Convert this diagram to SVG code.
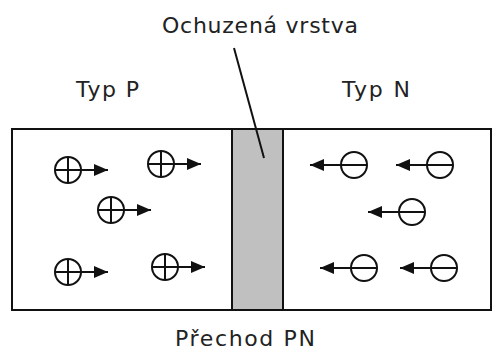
<svg xmlns="http://www.w3.org/2000/svg" width="497" height="354" viewBox="0 0 497 354">
<defs>
<style>
.lbl{font-family:"DejaVu Sans","Liberation Sans",sans-serif;font-size:22px;fill:#222}
.c{fill:none;stroke:#111;stroke-width:2}
.ln{stroke:#111;stroke-width:2}
</style>
<marker id="ah" viewBox="0 0 14 12" refX="14" refY="6" markerWidth="14" markerHeight="12" markerUnits="userSpaceOnUse" orient="auto">
<path d="M0,0 L14,6 L0,12 Z" fill="#111"/>
</marker>
<g id="plus">
<circle class="c" cx="0" cy="0" r="13"/>
<line class="ln" x1="0" y1="-13" x2="0" y2="13"/>
<line class="ln" x1="-13" y1="0" x2="40" y2="0" marker-end="url(#ah)"/>
</g>
<g id="minus">
<circle class="c" cx="0" cy="0" r="13"/>
<line class="ln" x1="13" y1="0" x2="-44" y2="0" marker-end="url(#ah)"/>
</g>
</defs>
<rect width="497" height="354" fill="#fff"/>
<g id="crystal">
<rect x="12" y="129" width="479" height="181" fill="#fff" stroke="#111" stroke-width="2"/>
<rect id="depletion" x="232" y="129" width="51" height="181" fill="#c0c0c0" stroke="#111" stroke-width="2"/>
</g>
<g id="p-carriers">
<use href="#plus" x="68" y="170"/>
<use href="#plus" x="161" y="164"/>
<use href="#plus" x="111" y="210"/>
<use href="#plus" x="68" y="272"/>
<use href="#plus" x="165" y="267"/>
</g>
<g id="n-carriers">
<use href="#minus" x="354" y="165"/>
<use href="#minus" x="440" y="165"/>
<use href="#minus" x="412" y="212"/>
<use href="#minus" x="364" y="268"/>
<use href="#minus" x="444" y="268"/>
</g>
<g id="connectors">
<line x1="234" y1="48" x2="264" y2="158" stroke="#111" stroke-width="2"/>
</g>
<g id="labels">
<text class="lbl" x="162" y="33" textLength="196">Ochuzená vrstva</text>
<text class="lbl" x="76" y="97" textLength="63">Typ P</text>
<text class="lbl" x="342" y="97" textLength="68">Typ N</text>
<text class="lbl" x="175" y="346" textLength="140">Přechod PN</text>
</g>
</svg>
